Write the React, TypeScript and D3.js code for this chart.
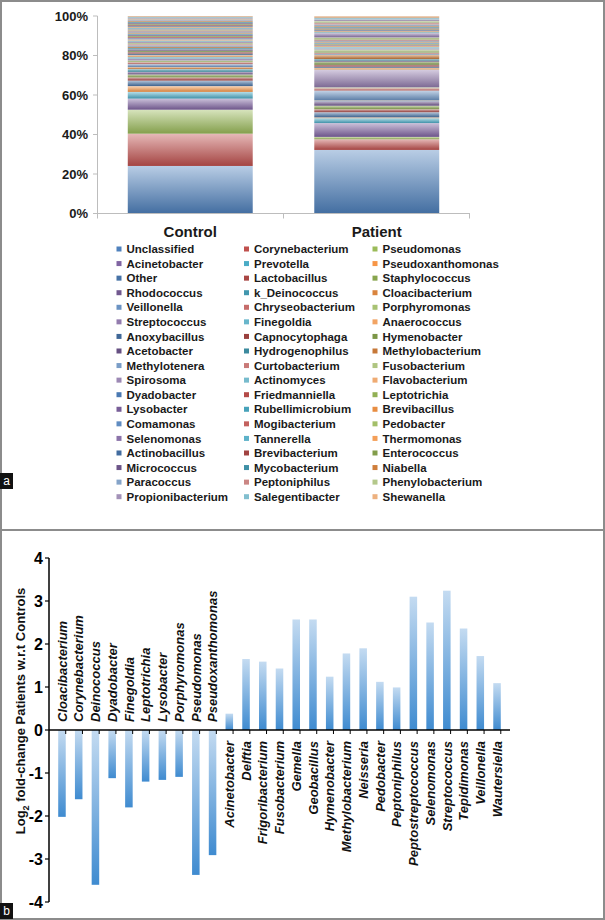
import * as React from "react";
import { useEffect, useRef } from "react";
import * as d3 from "d3";

// panel a - relative abundance
const groups = ["Control", "Patient"];
const taxa = [
  "Unclassified", "Corynebacterium", "Pseudomonas",
  "Acinetobacter", "Prevotella", "Pseudoxanthomonas",
  "Other", "Lactobacillus", "Staphylococcus",
  "Rhodococcus", "k_Deinococcus", "Cloacibacterium",
  "Veillonella", "Chryseobacterium", "Porphyromonas",
  "Streptococcus", "Finegoldia", "Anaerococcus",
  "Anoxybacillus", "Capnocytophaga", "Hymenobacter",
  "Acetobacter", "Hydrogenophilus", "Methylobacterium",
  "Methylotenera", "Curtobacterium", "Fusobacterium",
  "Spirosoma", "Actinomyces", "Flavobacterium",
  "Dyadobacter", "Friedmanniella", "Leptotrichia",
  "Lysobacter", "Rubellimicrobium", "Brevibacillus",
  "Comamonas", "Mogibacterium", "Pedobacter",
  "Selenomonas", "Tannerella", "Thermomonas",
  "Actinobacillus", "Brevibacterium", "Enterococcus",
  "Micrococcus", "Mycobacterium", "Niabella",
  "Paracoccus", "Peptoniphilus", "Phenylobacterium",
  "Propionibacterium", "Salegentibacter", "Shewanella",
];
const controlValues = [
  24.0, 16.3, 12.1, 5.6, 3.4, 2.9, 2.8, 1.6, 1.5, 1.3, 1.4, 1.0,
  1.5, 1.0, 0.9, 0.95, 0.8, 0.9, 0.8, 0.75, 0.7, 0.7, 0.7, 0.65,
  0.65, 0.6, 0.65, 0.6, 0.6, 0.6, 0.6, 0.55, 0.6, 0.6, 0.55, 0.55,
  0.55, 0.5, 0.5, 0.4, 0.5, 0.5, 0.5, 0.5, 0.45, 0.45, 0.45, 0.45,
  0.45, 0.45, 0.4, 0.45, 0.4, 0.4,
];
const patientValues = [
  32.2, 5.4, 1.2, 7.0, 2.5, 0.4, 2.6, 1.5, 1.8, 2.3, 0.12, 0.25,
  5.0, 1.2, 0.42, 8.8, 0.23, 0.9, 0.6, 0.9, 1.6, 0.5, 0.8, 2.2,
  0.5, 0.5, 1.7, 0.5, 0.7, 0.6, 0.28, 0.4, 0.26, 0.27, 0.5, 0.5,
  0.5, 0.5, 1.05, 2.2, 0.5, 0.5, 0.5, 0.4, 0.5, 0.4, 0.5, 0.4,
  0.7, 0.85, 0.9, 0.8, 0.8, 0.9,
];
const percentTicks = [0, 20, 40, 60, 80, 100];

// panel b - log2 fold change
const fcTaxa = [
  "Cloacibacterium", "Corynebacterium", "Deinococcus", "Dyadobacter",
  "Finegoldia", "Leptotrichia", "Lysobacter", "Porphyromonas",
  "Pseudomonas", "Pseudoxanthomonas", "Acinetobacter", "Delftia",
  "Frigoribacterium", "Fusobacterium", "Gemella", "Geobacillus",
  "Hymenobacter", "Methylobacterium", "Neisseria", "Pedobacter",
  "Peptoniphilus", "Peptostreptococcus", "Selenomonas", "Streptococcus",
  "Tepidimonas", "Veillonella", "Wautersiella",
];
const fcValues = [
  -2.02, -1.61, -3.6, -1.12, -1.8, -1.2, -1.16, -1.09, -3.37, -2.91,
  0.38, 1.65, 1.59, 1.43, 2.57, 2.57, 1.24, 1.78, 1.9, 1.12, 0.99,
  3.1, 2.5, 3.24, 2.36, 1.72, 1.09,
];
const fcTicks = [-4, -3, -2, -1, 0, 1, 2, 3, 4];

const baseColors = ["#4F81BD", "#C0504D", "#9BBB59", "#8064A2", "#4BACC6", "#F79646"];
const shades = [0, -0.12, 0.2, -0.2, 0.3, -0.06, 0.12, -0.16, 0.38];

const W = 605;
const H = 920;
const FONT = "'Liberation Sans', Arial, sans-serif";

function seriesColor(i: number) {
  const c = baseColors[i % 6];
  const s = shades[Math.floor(i / 6) % shades.length];
  return s < 0 ? d3.interpolateRgb(c, "#000")(-s) : d3.interpolateRgb(c, "#ddd")(s);
}

const App = () => {
  const ref = useRef<SVGSVGElement>(null);

  useEffect(() => {
    const svg = d3.select(ref.current);
    svg.selectAll("*").remove();
    const defs = svg.append("defs");

    svg.append("rect").attr("width", W).attr("height", H).attr("fill", "#fff");

    // ---------- panel a ----------
    const x = d3.scaleBand().domain(groups).range([97, 470]).paddingInner(0.33).paddingOuter(0.165);
    const y = d3.scaleLinear().domain([0, 100]).range([213.5, 16]);

    const rows = groups.map((g, gi) => {
      const r: any = { group: g };
      taxa.forEach((t, ti) => (r[t] = gi === 0 ? controlValues[ti] : patientValues[ti]));
      return r;
    });
    const stack = d3.stack().keys(taxa).offset(d3.stackOffsetExpand)(rows);

    taxa.forEach((t, i) => {
      const c = seriesColor(i);
      const grad = defs.append("linearGradient").attr("id", "sg" + i)
        .attr("x1", 0).attr("y1", 0).attr("x2", 0).attr("y2", 1);
      grad.append("stop").attr("offset", "0%").attr("stop-color", d3.interpolateRgb(c, "#fff")(0.6));
      grad.append("stop").attr("offset", "100%").attr("stop-color", d3.rgb(c).darker(0.45).formatHex());
    });

    const a = svg.append("g");
    stack.forEach((s, i) => {
      a.selectAll(null)
        .data(s)
        .enter()
        .append("rect")
        .attr("x", (d: any) => x(d.data.group)!)
        .attr("width", x.bandwidth())
        .attr("y", (d) => y(d[1] * 100))
        .attr("height", (d) => Math.max(0, y(d[0] * 100) - y(d[1] * 100)))
        .attr("fill", `url(#sg${i})`);
    });

    // axes of panel a
    a.append("line").attr("x1", 97.5).attr("x2", 97.5).attr("y1", 16).attr("y2", 213.5)
      .attr("stroke", "#bdbdbd").attr("stroke-width", 1);
    a.append("line").attr("x1", 97).attr("x2", 470).attr("y1", 213.5).attr("y2", 213.5)
      .attr("stroke", "#bdbdbd").attr("stroke-width", 1);
    [97.5, 283.5, 469.5].forEach((xx) =>
      a.append("line").attr("x1", xx).attr("x2", xx).attr("y1", 213.5).attr("y2", 218.5)
        .attr("stroke", "#bdbdbd"));
    percentTicks.forEach((p) => {
      a.append("line").attr("x1", 93).attr("x2", 97.5).attr("y1", y(p)).attr("y2", y(p))
        .attr("stroke", "#bdbdbd");
      a.append("text").attr("x", 88).attr("y", y(p)).attr("dy", "0.36em")
        .attr("text-anchor", "end").attr("font-size", 13).attr("font-weight", "bold")
        .attr("font-family", FONT).attr("fill", "#1a1a1a").text(p + "%");
    });
    groups.forEach((g) =>
      a.append("text").attr("x", x(g)! + x.bandwidth() / 2).attr("y", 237)
        .attr("text-anchor", "middle").attr("font-size", 15).attr("font-weight", "bold")
        .attr("font-family", FONT).attr("fill", "#1a1a1a").text(g));

    // legend
    const colMarker = [119, 246.5, 375];
    const colText = [126.5, 254, 382.5];
    taxa.forEach((t, i) => {
      const col = i % 3;
      const row = Math.floor(i / 3);
      const cy = 249 + row * 14.57;
      a.append("rect").attr("x", colMarker[col] - 2.5).attr("y", cy - 2.5)
        .attr("width", 5).attr("height", 5).attr("fill", seriesColor(i));
      a.append("text").attr("x", colText[col]).attr("y", cy).attr("dy", "0.36em")
        .attr("font-size", 11.5).attr("font-weight", "bold").attr("font-family", FONT)
        .attr("fill", "#1a1a1a").text(t);
    });

    // ---------- panel b ----------
    const xb = d3.scaleBand().domain(fcTaxa).range([49, 510]).padding(0.55);
    const yb = d3.scaleLinear().domain([-4, 4]).range([902, 558]);

    const bg = defs.append("linearGradient").attr("id", "fcg")
      .attr("x1", 0).attr("y1", 0).attr("x2", 0).attr("y2", 1);
    bg.append("stop").attr("offset", "0%").attr("stop-color", "#c4dbf1");
    bg.append("stop").attr("offset", "100%").attr("stop-color", "#3f8bd0");

    const b = svg.append("g");
    b.selectAll(null)
      .data(fcValues)
      .enter()
      .append("rect")
      .attr("x", (d, i) => xb(fcTaxa[i])!)
      .attr("width", xb.bandwidth())
      .attr("y", (d) => yb(Math.max(0, d)))
      .attr("height", (d) => Math.abs(yb(d) - yb(0)))
      .attr("fill", "url(#fcg)");

    b.append("line").attr("x1", 49).attr("x2", 49).attr("y1", yb(4)).attr("y2", yb(-4))
      .attr("stroke", "#000").attr("stroke-width", 1.5);
    b.append("line").attr("x1", 49).attr("x2", 510).attr("y1", yb(0)).attr("y2", yb(0))
      .attr("stroke", "#000").attr("stroke-width", 1.5);
    fcTicks.forEach((t) => {
      b.append("line").attr("x1", 45).attr("x2", 49).attr("y1", yb(t)).attr("y2", yb(t))
        .attr("stroke", "#000").attr("stroke-width", 1.2);
      b.append("text").attr("x", 43).attr("y", yb(t)).attr("dy", "0.36em")
        .attr("text-anchor", "end").attr("font-size", 16).attr("font-weight", "bold")
        .attr("font-family", FONT).attr("fill", "#000").text(t);
    });
    const step = xb.step();
    fcTaxa.forEach((t, i) => {
      const bx = 49 + step * (i + 1);
      b.append("line").attr("x1", bx).attr("x2", bx).attr("y1", yb(0)).attr("y2", yb(0) + 4)
        .attr("stroke", "#000").attr("stroke-width", 1);
    });
    fcTaxa.forEach((t, i) => {
      const cx = xb(t)! + xb.bandwidth() / 2;
      const neg = fcValues[i] < 0;
      const ly = neg ? yb(0) - 8 : yb(0) + 11;
      b.append("text")
        .attr("transform", `translate(${cx},${ly}) rotate(-90)`)
        .attr("dy", "0.36em")
        .attr("text-anchor", neg ? "start" : "end")
        .attr("font-size", 13).attr("font-weight", "bold").attr("font-style", "italic")
        .attr("font-family", FONT).attr("fill", "#111").text(t);
    });

    const title = b.append("text")
      .attr("transform", `translate(20,711) rotate(-90)`)
      .attr("dy", "0.36em").attr("text-anchor", "middle")
      .attr("font-size", 13).attr("font-weight", "bold").attr("font-family", FONT)
      .attr("fill", "#111");
    title.append("tspan").text("Log");
    title.append("tspan").attr("font-size", 9).attr("dy", "4").text("2");
    title.append("tspan").attr("dy", "-4").text(" fold-change Patients w.r.t Controls");

    // frame and panel tags
    svg.append("rect").attr("x", 1).attr("y", 1).attr("width", W - 2).attr("height", H - 2)
      .attr("fill", "none").attr("stroke", "#8c8c8c").attr("stroke-width", 2);
    svg.append("line").attr("x1", 0).attr("x2", W).attr("y1", 530).attr("y2", 530)
      .attr("stroke", "#8c8c8c").attr("stroke-width", 2);
    [["a", 473], ["b", 903]].forEach(([lab, ty]) => {
      svg.append("rect").attr("x", 0).attr("y", ty as number).attr("width", 13).attr("height", 16)
        .attr("fill", "#111");
      svg.append("text").attr("x", 6.5).attr("y", (ty as number) + 8).attr("dy", "0.34em")
        .attr("text-anchor", "middle").attr("font-size", 12).attr("font-family", FONT)
        .attr("fill", "#fff").text(lab as string);
    });
  });

  return (
    <div style={{ position: "absolute", left: 0, top: 0 }}>
      <svg ref={ref} width={W} height={H} style={{ display: "block" }}></svg>
    </div>
  );
};

export default App;
